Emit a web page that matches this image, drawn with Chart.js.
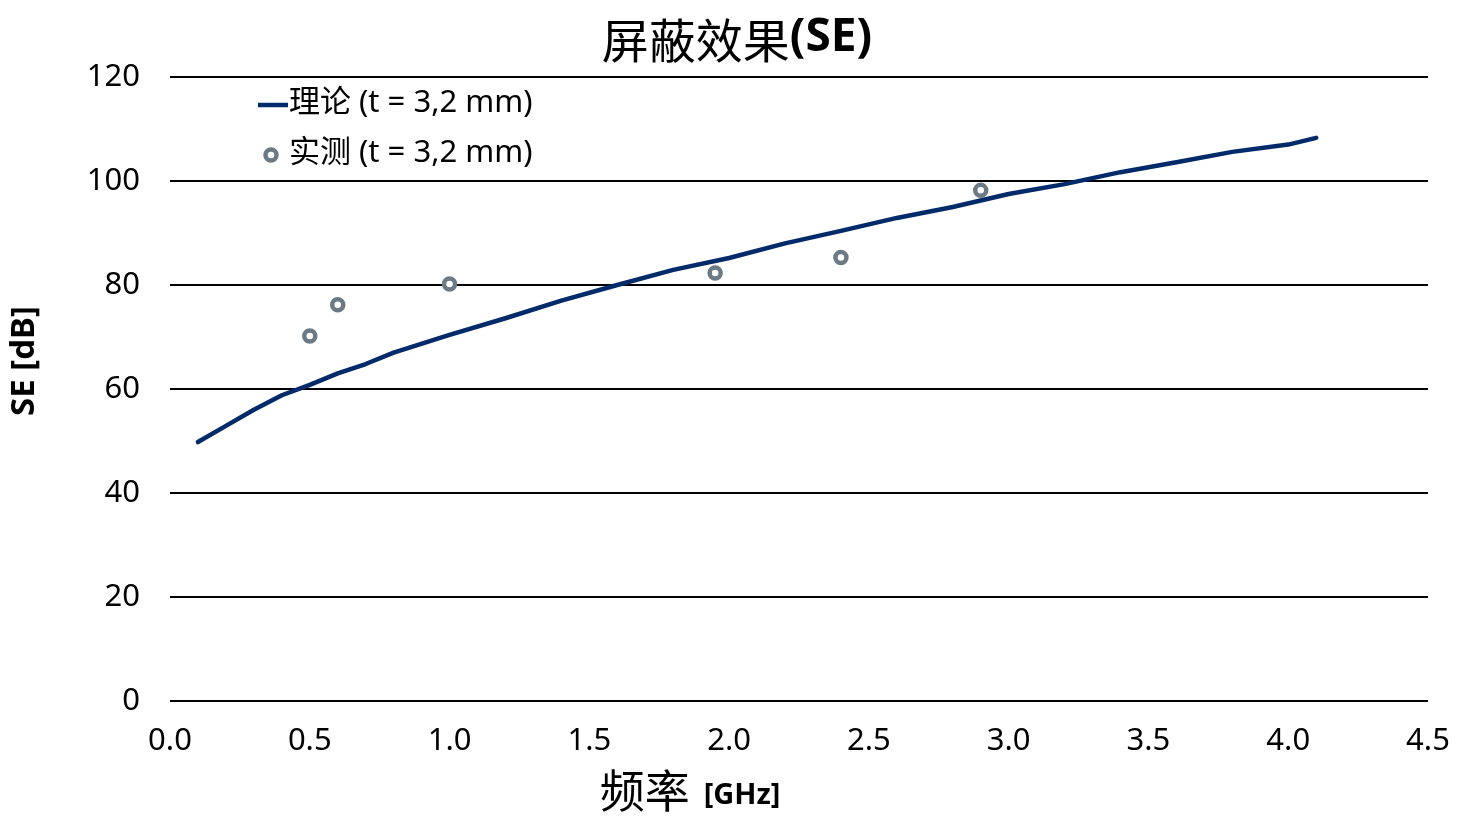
<!DOCTYPE html>
<html>
<head>
<meta charset="utf-8">
<script src="https://cdn.jsdelivr.net/npm/chart.js@4.4.0/dist/chart.umd.min.js"></script>
<style>
  html, body { margin: 0; padding: 0; background: #fff; }
  #wrap { width: 1468px; height: 828px; }
</style>
</head>
<body>
<div id="wrap"><canvas id="se-chart"></canvas></div>
<script>
  // theory curve
  var theoryFreq = [0.1, 0.2, 0.3, 0.4, 0.5, 0.6, 0.7, 0.8, 1.0, 1.2, 1.4, 1.6, 1.8, 2.0, 2.2, 2.4, 2.6, 2.8, 3.0, 3.2, 3.4, 3.6, 3.8, 4.0, 4.1];
  var theorySE = [49.8, 52.9, 56.0, 58.8, 60.8, 63.0, 64.8, 67.0, 70.4, 73.6, 77.0, 80.0, 82.9, 85.2, 88.0, 90.4, 92.9, 95.0, 97.5, 99.4, 101.7, 103.6, 105.6, 107.0, 108.3];
  // measured points
  var measFreq = [0.5, 0.6, 1.0, 1.95, 2.4, 2.9];
  var measSE = [70.2, 76.2, 80.2, 82.3, 85.3, 98.2];

  var xTicks = [0, 0.5, 1, 1.5, 2, 2.5, 3, 3.5, 4, 4.5];
  var yTicks = [0, 20, 40, 60, 80, 100, 120];

  var legendLabels = ['理论 (t = 3,2 mm)', '实测 (t = 3,2 mm)'];

  var lineColor = '#002a6a';
  var pointColor = '#6b7a84';
  var fontFamily = '"Noto Sans", "Noto Sans CJK SC", sans-serif';
  var cjkFamily = '"Noto Sans CJK SC", "Noto Sans", sans-serif';

  function toXY(xs, ys) {
    return xs.map(function (x, i) {
      return { x: x, y: ys[i] };
    });
  }

  // titles + legend drawn by hand (mixed weights)
  var textPlugin = {
    id: 'textPlugin',
    afterDraw: function (chart) {
      var ctx = chart.ctx;
      var area = chart.chartArea;
      ctx.save();
      ctx.fillStyle = '#000';
      ctx.textBaseline = 'middle';
      ctx.textAlign = 'left';

      // main title
      ctx.font = '47px ' + cjkFamily;
      var t1 = '屏蔽效果';
      var w1 = ctx.measureText(t1).width;
      ctx.font = 'bold 46px ' + fontFamily;
      var t2 = '(SE)';
      var w2 = ctx.measureText(t2).width;
      var sx = 737 - (w1 + w2) / 2;
      ctx.font = '47px ' + cjkFamily;
      ctx.fillText(t1, sx, 40);
      ctx.font = 'bold 46px ' + fontFamily;
      ctx.fillText(t2, sx + w1, 38);

      // x title
      ctx.font = '45px ' + cjkFamily;
      var x1 = '频率';
      var xw1 = ctx.measureText(x1).width;
      ctx.font = 'bold 29px ' + fontFamily;
      var x2 = '[GHz]';
      var xw2 = ctx.measureText(x2).width;
      var xs = 690 - (xw1 + xw2 + 14) / 2;
      ctx.font = '45px ' + cjkFamily;
      ctx.fillText(x1, xs, 791);
      ctx.font = 'bold 29px ' + fontFamily;
      ctx.fillText(x2, xs + xw1 + 14, 796);

      // y title
      ctx.save();
      ctx.translate(25, 361);
      ctx.rotate(-Math.PI / 2);
      ctx.textAlign = 'center';
      ctx.font = 'bold 33px ' + fontFamily;
      ctx.fillText('SE [dB]', 0, 0);
      ctx.restore();

      // legend
      var lx = area.left + 88;
      var ly = area.top + 28;
      ctx.strokeStyle = lineColor;
      ctx.lineWidth = 4.5;
      ctx.beginPath();
      ctx.moveTo(lx, ly);
      ctx.lineTo(lx + 30, ly);
      ctx.stroke();
      ctx.font = '31px ' + fontFamily;
      ctx.fillText(legendLabels[0], lx + 31, ly - 2);

      ctx.strokeStyle = pointColor;
      ctx.fillStyle = '#fff';
      ctx.lineWidth = 4.5;
      ctx.beginPath();
      ctx.arc(lx + 13, ly + 50, 5.5, 0, Math.PI * 2);
      ctx.fill();
      ctx.stroke();
      ctx.fillStyle = '#000';
      ctx.fillText(legendLabels[1], lx + 31, ly + 48);
      ctx.restore();
    }
  };

  var chartCanvas = document.getElementById('se-chart');
  var chartContext = chartCanvas.getContext('2d');

  new Chart(chartContext, {
    type: 'scatter',
    data: {
      datasets: [{
        label: legendLabels[0],
        data: toXY(theoryFreq, theorySE),
        showLine: true,
        borderColor: lineColor,
        borderWidth: 4.5,
        pointRadius: 0,
        tension: 0,
        borderCapStyle: 'round',
        borderJoinStyle: 'round'
      }, {
        label: legendLabels[1],
        data: toXY(measFreq, measSE),
        showLine: false,
        pointRadius: 5.5,
        pointBorderWidth: 4.5,
        pointBorderColor: pointColor,
        pointBackgroundColor: '#fff'
      }]
    },
    options: {
      responsive: true,
      maintainAspectRatio: false,
      animation: false,
      layout: {
        padding: { top: 77, right: 40, left: 0, bottom: 0 }
      },
      plugins: {
        legend: { display: false },
        title: { display: false },
        tooltip: { enabled: false }
      },
      scales: {
        x: {
          type: 'linear',
          min: 0,
          max: 4.5,
          afterBuildTicks: function (scale) {
            scale.ticks = xTicks.map(function (v) { return { value: v }; });
          },
          afterFit: function (scale) {
            scale.height = 127;
            scale.paddingLeft = 0;
            scale.paddingRight = 0;
          },
          grid: { display: false, drawTicks: false },
          border: { display: false },
          ticks: {
            padding: 22,
            color: '#000',
            font: { family: fontFamily, size: 31 },
            callback: function (v) { return Number(v).toFixed(1); }
          }
        },
        y: {
          min: 0,
          max: 120,
          afterBuildTicks: function (scale) {
            scale.ticks = yTicks.map(function (v) { return { value: v }; });
          },
          afterFit: function (scale) { scale.width = 170; },
          grid: { color: '#000', lineWidth: 2, drawTicks: false },
          border: { display: false },
          ticks: {
            padding: 30,
            color: '#000',
            font: { family: fontFamily, size: 31 }
          }
        }
      }
    },
    plugins: [textPlugin]
  });
</script>
</body>
</html>
